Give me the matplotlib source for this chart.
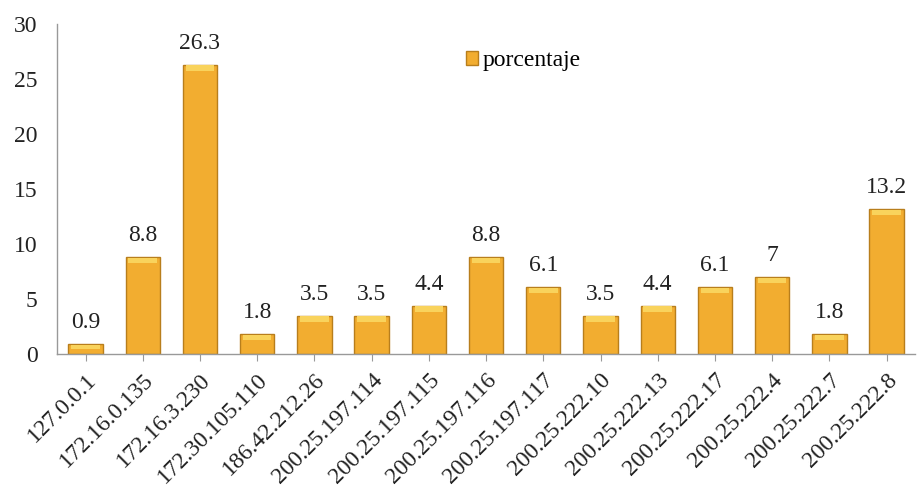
import matplotlib
matplotlib.use("Agg")
import matplotlib.pyplot as plt
from matplotlib.patches import Patch

categories = ["127.0.0.1", "172.16.0.135", "172.16.3.230", "172.30.105.110",
              "186.42.212.26", "200.25.197.114", "200.25.197.115", "200.25.197.116",
              "200.25.197.117", "200.25.222.10", "200.25.222.13", "200.25.222.17",
              "200.25.222.4", "200.25.222.7", "200.25.222.8"]
values = [0.9, 8.8, 26.3, 1.8, 3.5, 3.5, 4.4, 8.8, 6.1, 3.5, 4.4, 6.1, 7, 1.8, 13.2]
labels = ["0.9", "8.8", "26.3", "1.8", "3.5", "3.5", "4.4", "8.8", "6.1", "3.5",
          "4.4", "6.1", "7", "1.8", "13.2"]
series_name = "porcentaje"

plt.rcParams['font.family'] = ['Liberation Serif', 'DejaVu Serif']

fig = plt.figure(figsize=(9.18, 4.92), dpi=100)
ax = fig.add_axes([0.062, 0.280, 0.935, 0.671])

x = list(range(len(categories)))
bars = ax.bar(x, values, width=0.6, color='#F2AD30', edgecolor='#B87E1C', linewidth=1.0)
# lighter bevel at top of each bar
for xi, v in zip(x, values):
    h = min(0.5, v * 0.4)
    ax.bar(xi, h, bottom=v - h - 0.05, width=0.5, color='#F9D35C', linewidth=0)

for xi, v, lab in zip(x, values, labels):
    ax.text(xi, v + 1.0, lab, ha='center', va='bottom', fontsize=17, color='#222222')

ax.set_xlim(-0.5, len(categories) - 0.5)
ax.set_ylim(0, 30)
ax.set_yticks(range(0, 31, 5))
ax.set_xticks(x)
ax.set_xticklabels(categories, rotation=45, ha='right', rotation_mode='anchor', fontsize=17,
                   color='#222222')
ax.tick_params(axis='y', length=0, labelsize=17, pad=14, labelcolor='#222222')
ax.tick_params(axis='x', length=5, color='#999999', pad=6)
for s in ['top', 'right']:
    ax.spines[s].set_visible(False)
for s in ['left', 'bottom']:
    ax.spines[s].set_color('#999999')
    ax.spines[s].set_linewidth(1.0)

handle = Patch(facecolor='#F2AD30', edgecolor='#B87E1C', label=series_name)
ax.legend(handles=[handle], loc='upper left', bbox_to_anchor=(0.452, 0.985), frameon=False,
          fontsize=17, handlelength=0.5, handleheight=0.5, handletextpad=0.2)

fig.savefig("out.png", dpi=100)
